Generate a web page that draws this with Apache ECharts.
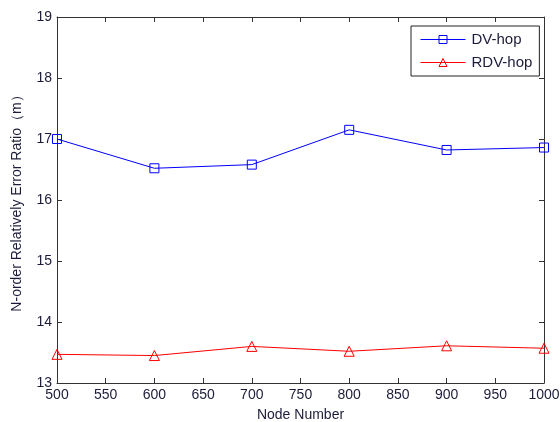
<!DOCTYPE html>
<html><head><meta charset="utf-8">
<script src="https://cdn.jsdelivr.net/npm/echarts@6/dist/echarts.min.js"></script>
<style>html,body{margin:0;padding:0;background:#fff}#c{width:560px;height:422px}</style>
</head><body><div id="c"></div>
<script>
const nodeNumbers = [500, 600, 700, 800, 900, 1000];
const dvHop = [17.0, 16.52, 16.58, 17.15, 16.82, 16.86];
const rdvHop = [13.47, 13.45, 13.60, 13.52, 13.61, 13.57];
const xLabel = 'Node Number';
const yLabel = 'N-order Relatively Error Ratio（m）';

const font = 'Liberation Sans, Arial, sans-serif';
const txt = '#1c1c3a';
const axisLine = {show: true, lineStyle: {color: '#333', width: 1}};
const tick = {show: true, inside: true, length: 5, lineStyle: {color: '#333'}};

const chart = echarts.init(document.getElementById('c'));
chart.setOption({
  backgroundColor: '#fff',
  animation: false,
  grid: {left: 57, right: 16, top: 17, bottom: 39, outerBoundsMode: 'none', containLabel: false},
  legend: {
    orient: 'vertical', left: 411, top: 26,
    backgroundColor: '#fff', borderColor: '#222', borderWidth: 1, borderRadius: 0,
    padding: [6, 7, 6, 9], itemGap: 8, itemWidth: 45, itemHeight: 10,
    itemStyle: {borderWidth: 1},
    lineStyle: {width: 1},
    textStyle: {fontFamily: font, fontSize: 15, color: txt, padding: [0, 0, 0, 1]},
    data: ['DV-hop', 'RDV-hop']
  },
  xAxis: [{
    type: 'value', min: 500, max: 1000, interval: 50,
    name: xLabel, nameLocation: 'middle', nameGap: 25,
    nameTextStyle: {fontFamily: font, fontSize: 14, color: txt},
    axisLine, axisTick: tick, splitLine: {show: false},
    axisLabel: {fontFamily: font, fontSize: 14, color: txt, margin: 5, formatter: v => String(v)}
  }, {
    type: 'value', position: 'top', min: 500, max: 1000, interval: 50,
    axisLine, axisTick: tick, splitLine: {show: false}, axisLabel: {show: false}
  }],
  yAxis: [{
    type: 'value', min: 13, max: 19, interval: 1,
    name: yLabel, nameLocation: 'middle', nameGap: 33, nameRotate: 90,
    nameTextStyle: {fontFamily: font, fontSize: 14, color: txt},
    axisLine, axisTick: tick, splitLine: {show: false},
    axisLabel: {fontFamily: font, fontSize: 14, color: txt, margin: 5}
  }, {
    type: 'value', position: 'right', min: 13, max: 19, interval: 1,
    axisLine, axisTick: tick, splitLine: {show: false}, axisLabel: {show: false}
  }],
  series: [{
    name: 'DV-hop', type: 'line',
    data: nodeNumbers.map((x, i) => [x, dvHop[i]]),
    symbol: 'rect', symbolSize: 9,
    lineStyle: {color: '#0000ff', width: 1},
    itemStyle: {color: 'rgba(255,255,255,0)', borderColor: '#0000ff', borderWidth: 1}
  }, {
    name: 'RDV-hop', type: 'line',
    data: nodeNumbers.map((x, i) => [x, rdvHop[i]]),
    symbol: 'triangle', symbolSize: 10,
    lineStyle: {color: '#ff0000', width: 1},
    itemStyle: {color: 'rgba(255,255,255,0)', borderColor: '#ff0000', borderWidth: 1}
  }]
});
</script></body></html>
